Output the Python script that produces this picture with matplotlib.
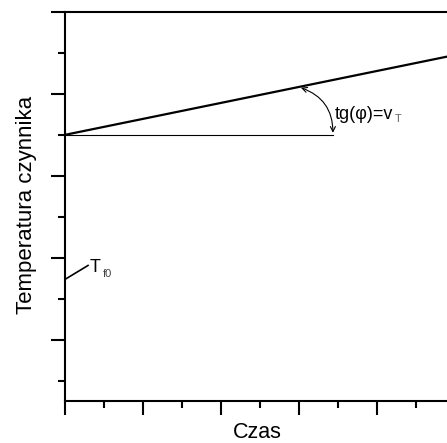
import matplotlib
matplotlib.use("Agg")
import matplotlib.pyplot as plt
from matplotlib.ticker import MultipleLocator

plt.rcParams['font.family'] = ['Liberation Sans', 'DejaVu Sans']

# data
line_x = [0, 10]
line_y = [5.0, 6.95]
ref_x = [0, 6.87]
ref_y = [5.0, 5.0]
tf0_leader_x = [0, 0.59]
tf0_leader_y = [1.47, 1.81]
xlim = (0, 10)
ylim = (-1.5, 8)

fig = plt.figure(figsize=(4.47, 4.43), dpi=100)
ax = fig.add_axes([65/447, 1 - 401/443, 390/447, 389/443])
ax.set_xlim(*xlim)
ax.set_ylim(*ylim)

ax.plot(line_x, line_y, color='black', lw=1.6, solid_capstyle='butt', clip_on=False)
ax.plot(ref_x, ref_y, color='black', lw=0.8)
ax.plot(tf0_leader_x, tf0_leader_y, color='black', lw=1.2)

ax.annotate('', xy=(6.87, 5.05), xytext=(6.05, 6.15),
            arrowprops=dict(arrowstyle='<->', lw=0.8, color='black',
                            connectionstyle='arc3,rad=-0.35',
                            shrinkA=0, shrinkB=0, mutation_scale=9))

ax.text(6.92, 5.39, 'tg(φ)=v', fontsize=13, color='black', ha='left', va='baseline')
ax.text(8.45, 5.31, 'T', fontsize=8, color='#666666', ha='left', va='baseline')
ax.text(0.64, 1.64, 'T', fontsize=13, color='black', ha='left', va='baseline')
ax.text(0.97, 1.52, 'f0', fontsize=8, color='#444444', ha='left', va='baseline')

ax.xaxis.set_major_locator(MultipleLocator(2))
ax.xaxis.set_minor_locator(MultipleLocator(1))
ax.yaxis.set_major_locator(MultipleLocator(2))
ax.yaxis.set_minor_locator(MultipleLocator(1))
ax.tick_params(which='both', direction='out', width=1.5, labelbottom=False, labelleft=False)
ax.tick_params(which='major', length=10)
ax.tick_params(which='minor', length=5)
for s in ax.spines.values():
    s.set_linewidth(1.5)

ax.set_xlabel('Czas', fontsize=15.5)
ax.xaxis.label.set_va('baseline')
ax.xaxis.set_label_coords(257.5/447, 5/443, transform=fig.transFigure)

ax.set_ylabel('Temperatura czynnika', fontsize=16)
ax.yaxis.label.set_rotation_mode('anchor')
ax.yaxis.label.set_va('baseline')
ax.yaxis.label.set_ha('center')
ax.yaxis.set_label_coords(32/447, 1 - 205/443, transform=fig.transFigure)

fig.savefig('out.png', dpi=100)
